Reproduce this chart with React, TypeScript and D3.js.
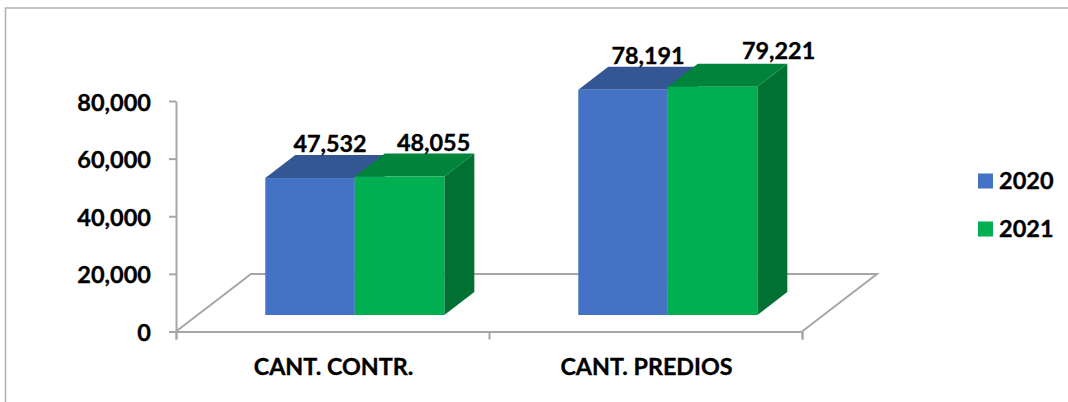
import { useEffect, useRef } from "react";
import * as d3 from "d3";

const categories = ["CANT. CONTR.", "CANT. PREDIOS"];
const years = ["2020", "2021"];
const values2020 = [47532, 78191];
const values2021 = [48055, 79221];
const yTicks = [0, 20000, 40000, 60000, 80000];

const colors = [
  { front: "#4472c4", top: "#345693", side: "#2f5597" },
  { front: "#00b050", top: "#00843c", side: "#007033" },
];

// where the labels were dragged to, relative to the bar centre [dx, dy]
const labelShift = [
  [[20, 0], [34, 0]],
  [[25, 0], [66, -2]],
];

const FONT = "Lato, sans-serif";
const AXIS_COLOR = "#a6a6a6";

export default function App() {
  const svgRef = useRef<SVGSVGElement>(null);

  useEffect(() => {
    if (!svgRef.current) return;

    const svg = d3.select(svgRef.current);
    svg.selectAll("*").remove();

    // frame
    svg
      .append("rect")
      .attr("x", 5.5)
      .attr("y", 8)
      .attr("width", 1100)
      .attr("height", 420)
      .attr("fill", "#fff")
      .attr("stroke", "#b0b0b0")
      .attr("stroke-width", 1.5);

    const x0 = d3.scaleBand<string>().domain(categories).range([176, 802]);
    const y = d3.scaleLinear().domain([0, 80000]).range([331.5, 101]);

    const floorDx = 75;
    const floorDy = -57.5;
    const barDx = 30;
    const barDy = -23;
    const baseShiftX = 22.3;
    const baseShiftY = -16.5;
    const groupW = x0.bandwidth() * 0.572;

    const x1 = d3.scaleBand<string>().domain(years).range([0, groupW]);

    // floor
    const left = x0.range()[0];
    const right = x0.range()[1];
    const floor = d3.line();
    svg
      .append("path")
      .attr(
        "d",
        floor([
          [left, y(0)],
          [left + floorDx, y(0) + floorDy],
          [right + floorDx, y(0) + floorDy],
          [right, y(0)],
        ]),
      )
      .attr("fill", "#fff")
      .attr("stroke", AXIS_COLOR)
      .attr("stroke-width", 2);

    // axes
    const yAxis = svg
      .append("g")
      .attr("transform", `translate(${left},0)`)
      .call(
        d3
          .axisLeft(y)
          .tickValues(yTicks)
          .tickSize(7)
          .tickSizeOuter(0)
          .tickPadding(18)
          .tickFormat((d) => d3.format(",")(Number(d))),
      );
    const xAxis = svg
      .append("g")
      .attr("transform", `translate(0,${y(0)})`)
      .call(d3.axisBottom(d3.scaleLinear().domain([0, 2]).range([left, right])).ticks(2).tickSize(8).tickFormat(() => ""));

    [yAxis, xAxis].forEach((a) => {
      a.selectAll(".domain").attr("stroke", AXIS_COLOR).attr("stroke-width", 2);
      a.selectAll(".tick line").attr("stroke", AXIS_COLOR).attr("stroke-width", 2);
    });
    yAxis
      .selectAll(".tick text")
      .attr("fill", "#000")
      .attr("stroke", "#000")
      .attr("stroke-width", 0.35)
      .attr("font-family", FONT)
      .attr("font-weight", 700)
      .attr("font-size", "23.5px")
      .attr("y", 1.5);

    // category labels
    svg
      .append("g")
      .selectAll("text")
      .data(categories)
      .join("text")
      .attr("x", (d) => x0(d)! + x0.bandwidth() / 2 + 1)
      .attr("y", 375)
      .attr("text-anchor", "middle")
      .attr("font-family", FONT)
      .attr("font-weight", 700)
      .attr("font-size", "23.3px")
      .attr("fill", "#000")
      .attr("stroke", "#000")
      .attr("stroke-width", 0.35)
      .text((d) => d);

    // bars
    const series = [values2020, values2021];
    const zero = y(0);
    categories.forEach((cat, ci) => {
      const groupX = x0(cat)! + (x0.bandwidth() - groupW) / 2 + baseShiftX;
      years.forEach((yr, si) => {
        const v = series[si][ci];
        const xl = groupX + x1(yr)!;
        const xr = xl + x1.bandwidth();
        const base = zero + baseShiftY;
        const top = base - (zero - y(v));
        const g = svg.append("g");
        g.append("path")
          .attr("d", d3.line()([[xr, top], [xr + barDx, top + barDy], [xr + barDx, base + barDy], [xr, base]]))
          .attr("fill", colors[si].side);
        g.append("path")
          .attr("d", d3.line()([[xl, top], [xl + barDx, top + barDy], [xr + barDx, top + barDy], [xr, top]]))
          .attr("fill", colors[si].top);
        g.append("rect")
          .attr("x", xl)
          .attr("y", top)
          .attr("width", xr - xl)
          .attr("height", base - top)
          .attr("fill", colors[si].front);
      });
    });

    // value labels
    categories.forEach((cat, ci) => {
      const groupX = x0(cat)! + (x0.bandwidth() - groupW) / 2 + baseShiftX;
      years.forEach((yr, si) => {
        const v = series[si][ci];
        const top = zero + baseShiftY - (zero - y(v));
        const [dx, dy] = labelShift[ci][si];
        svg
          .append("text")
          .attr("x", groupX + x1(yr)! + x1.bandwidth() / 2 + dx)
          .attr("y", top + barDy - 3 + dy)
          .attr("text-anchor", "middle")
          .attr("font-family", FONT)
          .attr("font-weight", 700)
          .attr("font-size", "23.4px")
          .attr("fill", "#000")
          .attr("stroke", "#000")
          .attr("stroke-width", 0.35)
          .text(d3.format(",")(v));
      });
    });

    // legend
    const legendY = d3.scalePoint<string>().domain(years).range([181, 229]);
    const legend = svg
      .append("g")
      .selectAll("g")
      .data(years)
      .join("g")
      .attr("transform", (d) => `translate(978,${legendY(d)})`);
    legend
      .append("rect")
      .attr("y", -7.5)
      .attr("width", 15)
      .attr("height", 15)
      .attr("fill", (_, i) => colors[i].front);
    legend
      .append("text")
      .attr("x", 21)
      .attr("y", 8)
      .attr("font-family", FONT)
      .attr("font-weight", 700)
      .attr("font-size", "23.5px")
      .attr("fill", "#000")
      .attr("stroke", "#000")
      .attr("stroke-width", 0.35)
      .text((d) => d);
  }, []);

  return (
    <svg
      ref={svgRef}
      width={1068}
      height={402}
      style={{ position: "absolute", left: 0, top: 0, background: "#fff" }}
    />
  );
}
